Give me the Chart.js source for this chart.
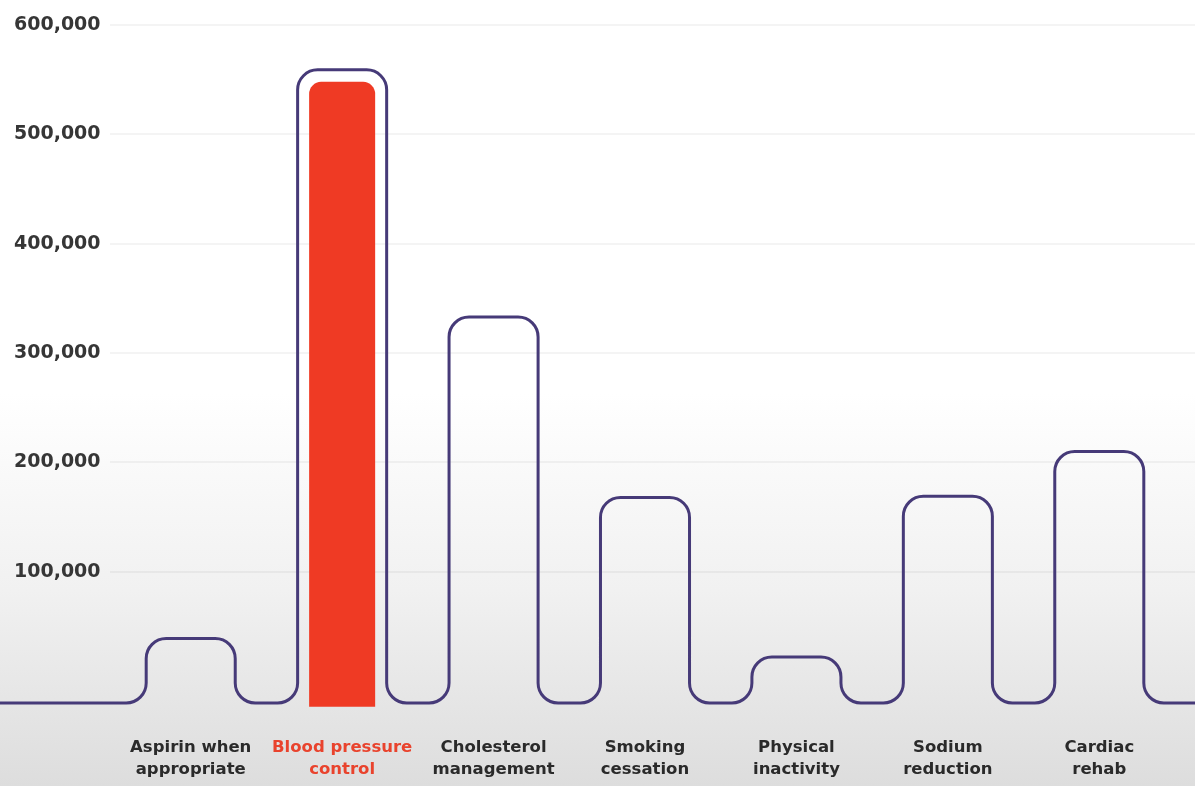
<!DOCTYPE html>
<html>
<head>
<meta charset="utf-8">
<script src="https://cdn.jsdelivr.net/npm/chart.js@4.4.1/dist/chart.umd.min.js"></script>
<style>
  html, body { margin: 0; padding: 0; }
  body {
    width: 1195px; height: 786px; overflow: hidden;
    background: linear-gradient(to bottom, #ffffff 0%, #ffffff 50%, #f1f1f1 75%, #dddddd 100%);
  }
  #wrap { position: relative; width: 1195px; height: 786px; }
</style>
</head>
<body>
<div id="wrap"><canvas id="livesChart"></canvas></div>
<script>
// values
const categories = [
  ['Aspirin when', 'appropriate'],
  ['Blood pressure', 'control'],
  ['Cholesterol', 'management'],
  ['Smoking', 'cessation'],
  ['Physical', 'inactivity'],
  ['Sodium', 'reduction'],
  ['Cardiac', 'rehab']
];
const livesSaved = [39000, 559000, 333000, 168000, 22000, 169000, 210000];
const highlightValues = [null, 548000, null, null, null, null, null];
const yTicks = [100000, 200000, 300000, 400000, 500000, 600000];

const BASELINE = -20000;       // the wavy line sits a little below zero
const HIGHLIGHT_BASE = -23500;
const HIGHLIGHT_INDEX = 1;

const LINE_COLOR = '#463a78';
const RED = '#ef3a24';
const FONT = 'DejaVu Sans, sans-serif';

/**
 * Grid lines behind, one continuous rounded outline over the bars
 */
const outlinePlugin = {
  id: 'outline',
  beforeDatasetsDraw(chart) {
    const { ctx, chartArea } = chart;
    const y = chart.scales.y;
    ctx.save();
    ctx.strokeStyle = 'rgba(0,0,0,0.045)';
    ctx.lineWidth = 2;
    yTicks.forEach(v => {
      const py = Math.round(y.getPixelForValue(v));
      ctx.beginPath();
      ctx.moveTo(chartArea.left - 5, py);
      ctx.lineTo(chart.width, py);
      ctx.stroke();
    });
    ctx.restore();
  },
  afterDatasetsDraw(chart) {
    const { ctx } = chart;
    const bars = chart.getDatasetMeta(0).data;
    if (!bars.length) return;
    const base = bars[0].base;

    ctx.save();
    ctx.strokeStyle = LINE_COLOR;
    ctx.lineWidth = 3;
    ctx.lineJoin = 'round';
    ctx.beginPath();
    ctx.moveTo(0, base);
    bars.forEach(bar => {
      const L = bar.x - bar.width / 2;
      const R = bar.x + bar.width / 2;
      const T = bar.y;
      const B = bar.base;
      const r = Math.min(20, (B - T) / 2);
      ctx.lineTo(L - r, B);
      ctx.arcTo(L, B, L, B - r, r);
      ctx.lineTo(L, T + r);
      ctx.arcTo(L, T, L + r, T, r);
      ctx.lineTo(R - r, T);
      ctx.arcTo(R, T, R, T + r, r);
      ctx.lineTo(R, B - r);
      ctx.arcTo(R, B, R + r, B, r);
    });
    ctx.lineTo(chart.width, base);
    ctx.stroke();
    ctx.restore();
  }
};

const data = {
  labels: categories,
  datasets: [
    {
      label: 'Lives saved',
      data: livesSaved.map(v => [BASELINE, v]),
      backgroundColor: 'rgba(0,0,0,0)',
      borderWidth: 0,
      grouped: false,
      barPercentage: 0.588,
      categoryPercentage: 1
    },
    {
      label: 'Blood pressure control',
      data: highlightValues.map(v => (v === null ? null : [HIGHLIGHT_BASE, v])),
      backgroundColor: RED,
      borderWidth: 0,
      borderSkipped: false,
      borderRadius: { topLeft: 12, topRight: 12, bottomLeft: 0, bottomRight: 0 },
      grouped: false,
      clip: false,
      barPercentage: 0.436,
      categoryPercentage: 1
    }
  ]
};

new Chart(document.getElementById('livesChart'), {
  type: 'bar',
  data,
  plugins: [outlinePlugin],
  options: {
    responsive: true,
    maintainAspectRatio: false,
    animation: false,
    layout: { padding: { left: 14, top: 25, right: 20, bottom: 0 } },
    plugins: {
      legend: { display: false },
      tooltip: { enabled: false }
    },
    scales: {
      x: {
        grid: { display: false, drawTicks: false },
        border: { display: false },
        ticks: {
          autoSkip: false,
          maxRotation: 0,
          padding: 34,
          color: ctx => (ctx.index === HIGHLIGHT_INDEX ? '#e9432d' : '#2a2a2a'),
          font: { family: FONT, size: 16.5, weight: 'bold', lineHeight: 1.33 }
        },
        afterFit: s => { s.height = 83; }
      },
      y: {
        min: BASELINE,
        max: 600000,
        grid: { display: false, drawTicks: false },
        border: { display: false },
        afterBuildTicks: s => { s.ticks = yTicks.map(v => ({ value: v })); },
        afterFit: s => { s.width = 101; },
        ticks: {
          crossAlign: 'far',
          color: '#363636',
          font: { family: FONT, size: 19, weight: 'bold' },
          callback: v => v.toLocaleString('en-US')
        }
      }
    }
  }
});
</script>
</body>
</html>
